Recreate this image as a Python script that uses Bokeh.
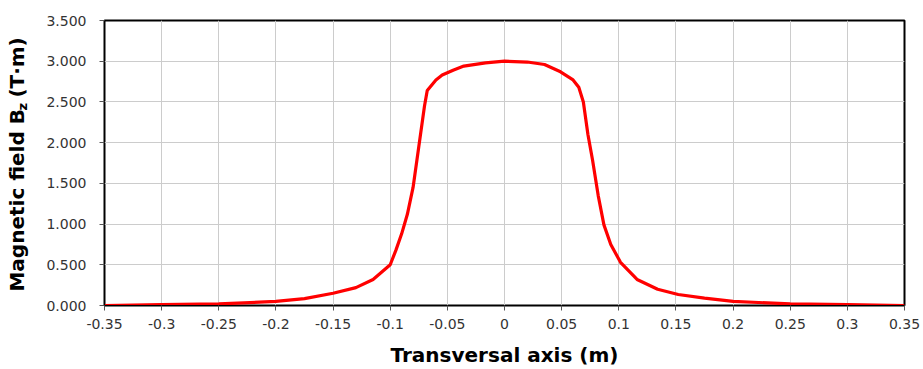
import math
from bokeh.plotting import figure
from bokeh.layouts import row
from bokeh.models import Range1d, FixedTicker, NumeralTickFormatter
from bokeh.core.properties import value
from bokeh.embed import file_html
from bokeh.resources import INLINE

# ---- data ----
x_m = [-0.35, -0.3, -0.25, -0.2, -0.175, -0.15, -0.13, -0.115, -0.1, -0.095,
       -0.09, -0.085, -0.08, -0.075, -0.07, -0.0676, -0.06, -0.0545, -0.045,
       -0.0356, -0.0166, 0.0,
       0.02, 0.035, 0.049, 0.06, 0.065, 0.069, 0.073, 0.077, 0.082, 0.087,
       0.093, 0.1015, 0.116, 0.134, 0.152, 0.175, 0.2, 0.25, 0.3, 0.35]
bz = [0.0, 0.01, 0.02, 0.05, 0.085, 0.15, 0.22, 0.32, 0.5, 0.68,
      0.88, 1.12, 1.45, 1.95, 2.45, 2.64, 2.77, 2.83, 2.89,
      2.94, 2.98, 3.0,
      2.99, 2.96, 2.87, 2.77, 2.68, 2.5, 2.1, 1.79, 1.35, 0.99,
      0.75, 0.53, 0.32, 0.2, 0.135, 0.09, 0.05, 0.02, 0.01, 0.0]
x_ticks = [-0.35, -0.3, -0.25, -0.2, -0.15, -0.1, -0.05, 0.0,
           0.05, 0.1, 0.15, 0.2, 0.25, 0.3, 0.35]
y_ticks = [0.0, 0.5, 1.0, 1.5, 2.0, 2.5, 3.0, 3.5]
x_title = "Transversal axis (m)"
y_title_main = "Magnetic field B"
y_title_sub = "z"
y_title_unit = "(T·m)"

W, H = 923, 369
YT_W = 40
FRAME_TOP, FRAME_BOTTOM = 20, 306
L, R, T, B = 104 - YT_W, 19, FRAME_TOP, H - FRAME_BOTTOM

# ---- y-axis title panel (its frame is aligned with the main frame) ----
yt = figure(width=YT_W, height=H, output_backend="svg", toolbar_location=None,
            x_range=Range1d(0, YT_W),
            y_range=Range1d(H - FRAME_BOTTOM, H - FRAME_TOP), min_border=0)
yt.min_border_top = T
yt.min_border_bottom = B
yt.axis.visible = False
yt.grid.visible = False
yt.outline_line_color = None
fs = 20
main_len = 9.031 * fs
y_start = H - 292
base_x = 16
common = dict(angle=math.pi / 2, text_align="left", text_baseline="alphabetic",
              text_font=value("DejaVu Sans"), text_font_style="bold",
              text_color="black")
yt.text(x=[base_x], y=[y_start], text=[y_title_main],
        text_font_size=f"{fs}px", **common)
yt.text(x=[base_x + 6], y=[y_start + main_len + 1], text=[y_title_sub],
        text_font_size="13px", **common)
yt.text(x=[base_x], y=[y_start + main_len + 14], text=[y_title_unit],
        text_font_size=f"{fs}px", **common)

# ---- main chart ----
p = figure(width=W - YT_W, height=H, output_backend="svg", toolbar_location=None,
           x_range=Range1d(-0.35, 0.35), y_range=Range1d(0, 3.5))
p.min_border_left = L
p.min_border_right = R
p.min_border_top = T
p.min_border_bottom = B
p.background_fill_color = "white"
p.border_fill_color = "white"
p.outline_line_color = "black"
p.outline_line_width = 2

p.line(x_m, bz, line_color="#ff0000", line_width=3.2)

p.xaxis.ticker = FixedTicker(ticks=x_ticks)
p.yaxis.ticker = FixedTicker(ticks=y_ticks)
p.xaxis.formatter = NumeralTickFormatter(format="0.[00]")
p.yaxis.formatter = NumeralTickFormatter(format="0.000")

for ax in (p.xaxis[0], p.yaxis[0]):
    ax.axis_line_color = "black"
    ax.axis_line_width = 1
    ax.major_tick_in = 0
    ax.major_tick_out = 5
    ax.major_tick_line_color = "#555555"
    ax.minor_tick_line_color = None
    ax.major_label_text_font = "DejaVu Sans"
    ax.major_label_text_font_size = "14px"
    ax.major_label_text_color = "#333333"
p.xaxis.major_label_standoff = 8
p.yaxis.major_label_standoff = 13

p.xaxis.axis_label = x_title
p.xaxis.axis_label_text_font = "DejaVu Sans"
p.xaxis.axis_label_text_font_style = "bold"
p.xaxis.axis_label_text_font_size = "20px"
p.xaxis.axis_label_text_color = "black"
p.xaxis.axis_label_standoff = 11

p.xgrid.ticker = FixedTicker(ticks=x_ticks)
p.ygrid.ticker = FixedTicker(ticks=y_ticks)
p.grid.grid_line_color = "#cccccc"
p.grid.grid_line_width = 1

layout = row(yt, p, spacing=0)
open("out.html", "w").write(file_html(layout, INLINE))
